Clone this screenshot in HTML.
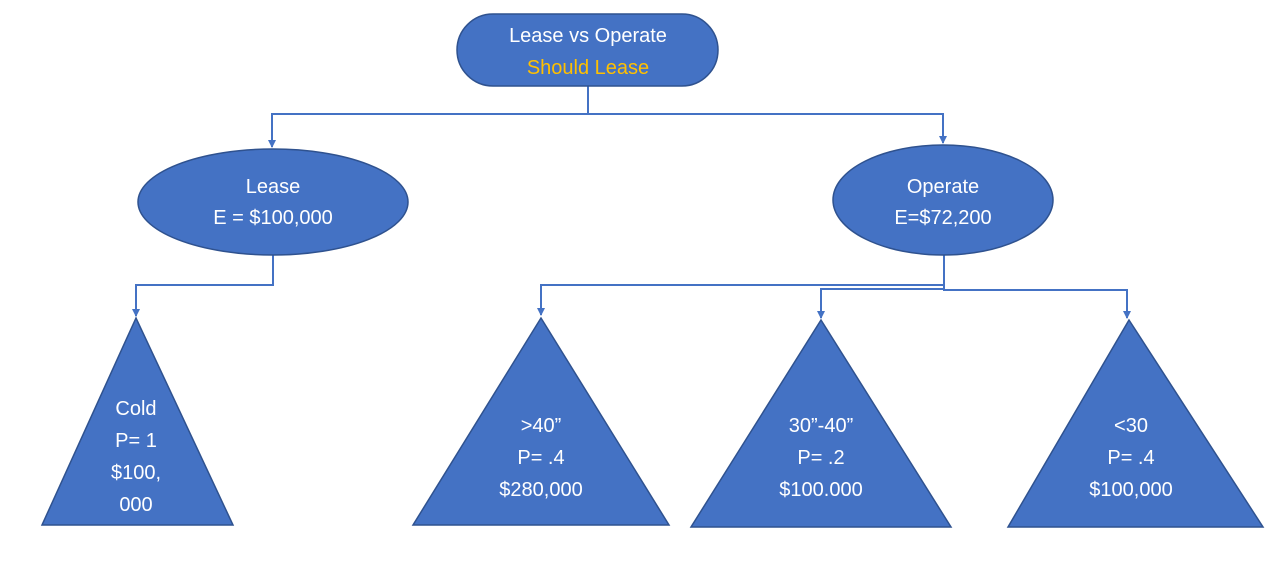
<!DOCTYPE html>
<html><head><style>body{margin:0;background:#fff}</style></head><body>
<svg width="1272" height="562" xmlns="http://www.w3.org/2000/svg" style="display:block">
<defs><marker id="a" markerWidth="8" markerHeight="8" refX="4" refY="7" orient="0" markerUnits="userSpaceOnUse"><path d="M0,0 L8,0 L4,8 Z" fill="#4472C4"/></marker></defs>
<g fill="none" stroke="#4472C4" stroke-width="2">
<path d="M588,86 V114 H272 V147" marker-end="url(#a)"/>
<path d="M588,114 H943 V143" marker-end="url(#a)"/>
<path d="M273,255 V285 H136 V316" marker-end="url(#a)"/>
<path d="M944,255 V285 H541 V315" marker-end="url(#a)"/>
<path d="M944,285 V289 H821 V318" marker-end="url(#a)"/>
<path d="M944,285 V290 H1127 V318" marker-end="url(#a)"/>
</g>
<g fill="#4472C4" stroke="#2F528F" stroke-width="1.5">
<rect x="457" y="14" width="261" height="72" rx="36"/>
<ellipse cx="273" cy="202" rx="135" ry="53"/>
<ellipse cx="943" cy="200" rx="110" ry="55"/>
<polygon points="136,318 42,525 233,525"/>
<polygon points="541,318 413,525 669,525"/>
<polygon points="821,320 691,527 951,527"/>
<polygon points="1129,320 1008,527 1263,527"/>
</g>
<g font-family="Liberation Sans, sans-serif" font-size="20" fill="#fff" text-anchor="middle">
<text x="588" y="42">Lease vs Operate</text>
<text x="588" y="74" fill="#FFC000">Should Lease</text>
<text x="273" y="193">Lease</text>
<text x="273" y="224">E = $100,000</text>
<text x="943" y="193">Operate</text>
<text x="943" y="224">E=$72,200</text>
<text x="136" y="415">Cold</text>
<text x="136" y="447">P= 1</text>
<text x="136" y="479">$100,</text>
<text x="136" y="511">000</text>
<text x="541" y="432">&gt;40”</text>
<text x="541" y="464">P= .4</text>
<text x="541" y="496">$280,000</text>
<text x="821" y="432">30”-40”</text>
<text x="821" y="464">P= .2</text>
<text x="821" y="496">$100.000</text>
<text x="1131" y="432">&lt;30</text>
<text x="1131" y="464">P= .4</text>
<text x="1131" y="496">$100,000</text>
</g>
</svg>
</body></html>
